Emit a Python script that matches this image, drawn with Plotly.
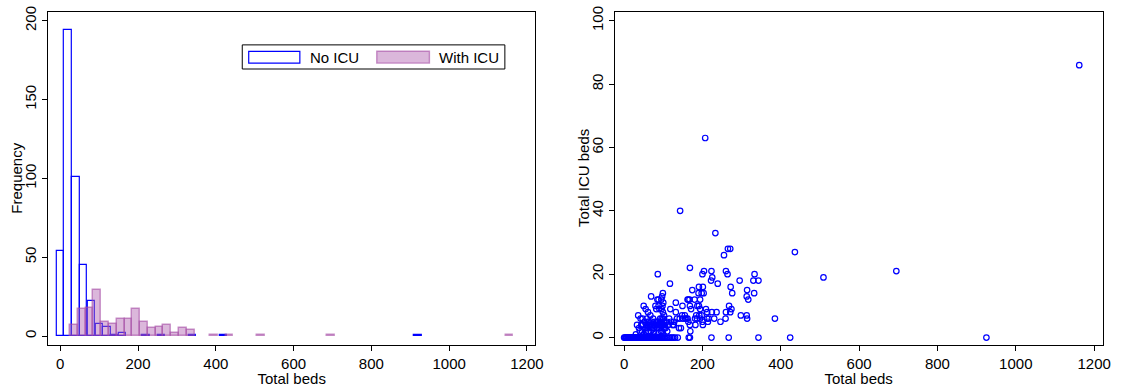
import plotly.graph_objects as go

# ---------------- Histogram data (bin centres and counts) ----------------
no_icu_bins = [0, 20, 40, 60, 80, 100, 120, 140, 160, 220, 260, 340, 420, 920]
no_icu_counts = [54, 194, 101, 45, 22, 8, 6, 1, 2, 1, 1, 1, 1, 1]

with_icu_bins = [35, 55, 75, 95, 115, 135, 155, 175, 195, 215, 235, 255, 275,
                 295, 315, 335, 395, 435, 515, 695, 1155]
with_icu_counts = [7, 17, 18, 29, 9, 8, 11, 11, 17, 9, 5, 6, 7,
                   2, 5, 4, 1, 1, 1, 1, 1]

# ---------------- Scatter data ----------------
# hospitals without ICU beds (many overlap on the zero line)
zero_beds = [0, 2, 4, 5, 7, 9, 10, 12, 14, 15, 17, 19, 20, 22, 24, 25, 27, 29,
             30, 32, 34, 35, 37, 39, 40, 42, 44, 45, 47, 49, 50, 52, 54, 55, 57,
             59, 60, 62, 64, 65, 67, 69, 70, 72, 74, 75, 77, 79, 80, 82, 84, 86,
             88, 90, 92, 95, 98, 100, 103, 106, 110, 114, 118, 122, 126, 130,
             137, 165, 168, 223, 267, 343, 424, 925]
zero_icu = [0] * len(zero_beds)

# hospitals with ICU beds
icu_beds_total = [
    36, 42, 33, 38, 40, 44, 30,
    50, 55, 61, 48, 52, 57, 60, 63, 46, 50, 54, 58, 62, 64, 47, 56, 60,
    69, 67, 82, 80, 85, 70, 72, 75, 78, 66, 74, 76, 80, 83, 71, 77, 84, 68,
    86, 88, 95, 97, 99, 100, 98, 96, 99, 88, 90, 92, 87, 90, 93, 95, 97, 100,
    102, 103, 94, 100, 104, 89, 91, 86, 98, 102, 96,
    117, 118, 109, 106, 112, 120, 124, 115, 110,
    143, 132, 132, 128, 127, 140, 135, 142,
    149, 148, 145, 156, 162, 150, 155, 159, 164, 162, 164,
    168, 174, 167, 180, 168, 171, 184, 168, 169, 181, 182,
    200, 204, 191, 201, 190, 198, 203, 194, 191, 187, 194, 198, 194, 200, 201,
    186, 192,
    207, 222, 223, 212, 212, 216, 214, 224, 209,
    233, 225, 239, 236, 230,
    255, 260, 264, 260, 259, 246,
    265, 271, 272, 276, 268, 274, 271,
    295, 298,
    314, 313, 317, 313, 314,
    333, 330, 343, 332,
    385, 436, 509, 695, 1162]
icu_beds_icu = [
    7, 6, 4, 3, 2, 4, 1,
    10, 9, 8, 4, 5, 4, 3, 5, 2, 1, 3, 6, 2, 4, 6, 2, 5,
    13, 7, 9, 10, 12, 5, 4, 3, 5, 4, 6, 2, 4, 5, 3, 1, 3, 2,
    20, 12, 12, 13, 14, 11, 10, 9, 8, 10, 9, 6, 5, 4, 3, 5, 4, 6,
    5, 3, 2, 1, 4, 3, 5, 4, 2, 7, 6,
    17, 9, 5, 3, 4, 5, 4, 6, 2,
    40, 11, 8, 5, 4, 3, 6, 6,
    10, 7, 3, 6, 6, 6, 7, 6, 5, 12, 12,
    22, 15, 12, 12, 10, 9, 7, 4, 2, 6, 4,
    20, 21, 16, 16, 14, 14, 14, 12, 10, 10, 9, 7, 6, 5, 4,
    6, 7,
    63, 18, 21, 8, 6, 6, 5, 8, 9,
    33, 19, 17, 8, 6,
    26, 21, 20, 8, 6, 5,
    28, 28, 16, 14, 10, 9, 8,
    18, 7,
    15, 13, 12, 7, 6,
    20, 18, 18, 14,
    6, 27, 19, 21, 86]

x_ticks = [0, 200, 400, 600, 800, 1000, 1200]
freq_ticks = [0, 50, 100, 150, 200]
icu_ticks = [0, 20, 40, 60, 80, 100]

BLUE = "#0000ff"
PINK_FILL = "rgba(175,95,175,0.45)"
PINK_LINE = "rgba(165,75,165,0.6)"
FONT = "Liberation Sans, Arial, Helvetica, sans-serif"

fig = go.Figure()

fig.add_trace(go.Bar(
    x=no_icu_bins, y=no_icu_counts, width=19, name="No ICU",
    marker=dict(color="rgba(255,255,255,0)", line=dict(color=BLUE, width=1.2)),
    xaxis="x", yaxis="y", showlegend=False))

fig.add_trace(go.Bar(
    x=with_icu_bins, y=with_icu_counts, width=20, name="With ICU",
    marker=dict(color=PINK_FILL, line=dict(color=PINK_LINE, width=1.4)),
    xaxis="x", yaxis="y", showlegend=False))

fig.add_trace(go.Scatter(
    x=zero_beds, y=zero_icu, mode="markers",
    marker=dict(symbol="circle-open", size=5.5, color=BLUE, line=dict(width=1.2)),
    xaxis="x2", yaxis="y2", showlegend=False))

fig.add_trace(go.Scatter(
    x=icu_beds_total, y=icu_beds_icu, mode="markers",
    marker=dict(symbol="circle-open", size=5.5, color=BLUE, line=dict(width=1.2)),
    xaxis="x2", yaxis="y2", showlegend=False))

axis_common = dict(showline=True, linecolor="black", linewidth=1, mirror=True,
                   ticks="outside", ticklen=5, tickcolor="black", tickwidth=1,
                   showgrid=False, zeroline=False,
                   tickfont=dict(family=FONT, size=15, color="black"))

fig.update_layout(
    width=1122, height=387,
    margin=dict(l=0, r=0, t=0, b=0),
    paper_bgcolor="white", plot_bgcolor="white",
    barmode="overlay", bargap=0,
    font=dict(family=FONT, size=15, color="black"),
    xaxis=dict(domain=[0.0430, 0.4807], range=[-31.7, 1222], tickvals=x_ticks,
               title=dict(text="Total beds", standoff=0,
                          font=dict(family=FONT, size=15)),
               anchor="y", **axis_common),
    yaxis=dict(domain=[0.1098, 0.9845], range=[-5.8, 205.6], tickvals=freq_ticks,
               tickangle=-90, anchor="x", **axis_common),
    xaxis2=dict(domain=[0.5517, 0.9899], range=[-24.3, 1222], tickvals=x_ticks,
                title=dict(text="Total beds", standoff=0,
                           font=dict(family=FONT, size=15)),
                anchor="y2", **axis_common),
    yaxis2=dict(domain=[0.1098, 0.9845], range=[-2.4, 102.8], tickvals=icu_ticks,
                tickangle=-90, anchor="x2", **axis_common),
)

W, H = 1122.0, 387.0
def px(x): return x / W
def py(y): return 1 - y / H

# y-axis titles placed beside the rotated tick labels
fig.add_annotation(xref="paper", yref="paper", x=px(16.5), y=py(175),
                   text="Frequency", textangle=-90, showarrow=False,
                   xanchor="center", yanchor="middle",
                   font=dict(family=FONT, size=15, color="black"))
fig.add_annotation(xref="paper", yref="paper", x=px(587), y=py(175),
                   text="Total ICU beds", textangle=-90, showarrow=False,
                   xanchor="center", yanchor="middle",
                   font=dict(family=FONT, size=15, color="black"))

# Legend drawn as a boxed key inside the left panel
fig.add_shape(type="rect", xref="paper", yref="paper",
              x0=px(244), x1=px(508.5), y0=py(64), y1=py(39.5),
              line=dict(color="black", width=1), fillcolor="white")
fig.add_shape(type="rect", xref="paper", yref="paper",
              x0=px(250.5), x1=px(302), y0=py(58), y1=py(46),
              line=dict(color=BLUE, width=1.2), fillcolor="white")
fig.add_shape(type="rect", xref="paper", yref="paper",
              x0=px(379.5), x1=px(432.5), y0=py(58), y1=py(46),
              line=dict(color=PINK_LINE, width=1.4), fillcolor=PINK_FILL)
fig.add_annotation(xref="paper", yref="paper", x=px(310), y=py(52),
                   text="No ICU", showarrow=False, xanchor="left", yanchor="middle",
                   font=dict(family=FONT, size=15, color="black"))
fig.add_annotation(xref="paper", yref="paper", x=px(440), y=py(52),
                   text="With ICU", showarrow=False, xanchor="left", yanchor="middle",
                   font=dict(family=FONT, size=15, color="black"))

fig.write_html("out.html",
               config={"displayModeBar": False},
               post_script="document.body.style.margin='0';"
                           "document.body.style.padding='0';")
